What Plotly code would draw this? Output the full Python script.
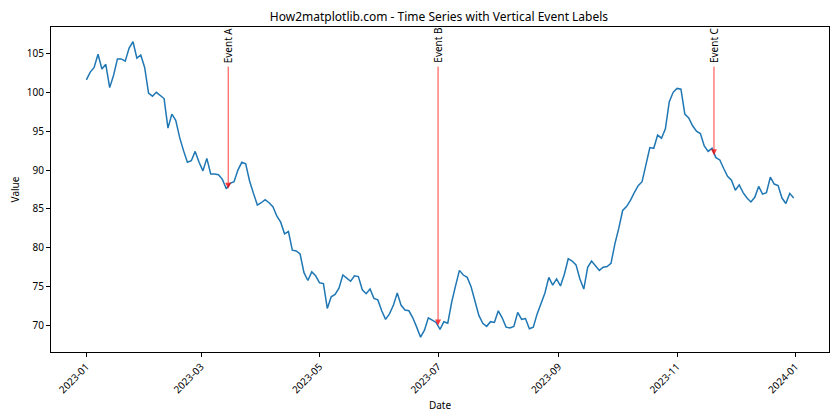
import plotly.graph_objects as go
import pandas as pd

# values, one every 2 days through 2023
dates = pd.date_range('2023-01-01', '2023-12-31', freq='2D')
values = [
    101.6, 102.6, 103.2, 104.9, 103.0, 103.6, 100.6, 102.2, 104.3, 104.3,
    104.0, 105.7, 106.5, 104.4, 104.8, 103.2, 99.9, 99.5, 100.0, 99.6,
    99.2, 95.4, 97.2, 96.4, 94.2, 92.5, 91.0, 91.2, 92.4, 91.0,
    89.9, 91.5, 89.5, 89.5, 89.4, 88.8, 87.6, 88.3, 88.5, 90.0,
    91.0, 90.8, 88.6, 87.0, 85.5, 85.8, 86.2, 85.8, 85.3, 84.1,
    83.3, 81.8, 82.1, 79.7, 79.6, 79.2, 76.8, 75.8, 76.9, 76.4,
    75.5, 75.4, 72.2, 73.7, 74.0, 74.8, 76.5, 76.1, 75.7, 76.4,
    76.3, 74.6, 74.1, 74.7, 73.5, 73.3, 71.9, 70.8, 71.5, 72.6,
    74.2, 72.6, 72.0, 71.9, 71.0, 69.8, 68.5, 69.4, 71.0, 70.7,
    70.4, 69.5, 70.5, 70.3, 73.0, 75.1, 77.1, 76.5, 76.2, 75.0,
    73.1, 71.3, 70.3, 69.9, 70.5, 70.4, 71.9, 71.0, 69.8, 69.7,
    69.9, 71.7, 70.8, 70.9, 69.6, 69.8, 71.5, 72.8, 74.2, 76.2,
    75.2, 76.0, 75.1, 76.6, 78.6, 78.3, 77.8, 76.0, 74.7, 77.5,
    78.3, 77.7, 77.1, 77.5, 77.6, 78.0, 80.5, 82.5, 84.8, 85.3,
    86.1, 87.1, 88.0, 88.5, 90.8, 92.9, 92.8, 94.5, 94.1, 95.3,
    98.8, 100.0, 100.5, 100.4, 97.2, 96.7, 95.7, 95.0, 94.7, 93.1,
    92.4, 92.8, 91.6, 91.3, 90.2, 89.2, 88.7, 87.4, 88.1, 87.1,
    86.4, 85.9, 86.5, 87.9, 86.9, 87.1, 89.1, 88.2, 88.0, 86.4,
    85.7, 87.0, 86.4,
]

event_dates = ['2023-03-15', '2023-07-01', '2023-11-20']
event_labels = ['Event A', 'Event B', 'Event C']
event_values = [87.6, 70.0, 91.9]
label_level = 103.5

FONT = 'Noto Sans'

fig = go.Figure()
fig.add_trace(go.Scatter(
    x=dates, y=values, mode='lines',
    line=dict(color='#1f77b4', width=1.5),
    showlegend=False,
))

for d, lab, v in zip(event_dates, event_labels, event_values):
    # red arrow from the label level down to the series
    fig.add_annotation(
        x=d, y=v, ax=d, ay=label_level, axref='x', ayref='y',
        text='', showarrow=True, arrowhead=2, arrowsize=1.2, arrowwidth=1,
        arrowcolor='rgba(255,0,0,0.75)',
    )
    fig.add_annotation(
        x=d, y=label_level, text=lab, showarrow=False, textangle=-90,
        xanchor='center', yanchor='bottom', yshift=0,
        font=dict(family=FONT, size=10, color='black'),
    )

# matplotlib-style 5% padding
t0, t1 = dates[0], dates[-1]
pad_t = (t1 - t0) * 0.05
vmin, vmax = min(values), max(values)
pad_v = (vmax - vmin) * 0.05

# page body has an 8px margin, so the figure is sized 8px smaller
fig.update_layout(
    width=832, height=412,
    margin=dict(l=43, r=11, t=19, b=68),
    plot_bgcolor='white', paper_bgcolor='white',
    font=dict(family=FONT, size=10, color='black'),
    title=dict(text='How2matplotlib.com - Time Series with Vertical Event Labels',
               x=0.518, xanchor='center', y=0.978, yanchor='middle',
               font=dict(family=FONT, size=12, color='black')),
)
fig.update_xaxes(
    range=[t0 - pad_t, t1 + pad_t], automargin=False,
    tick0='2023-01-01', dtick='M2', tickformat='%Y-%m', tickangle=-45,
    ticks='outside', ticklen=4, tickcolor='black',
    showline=True, linecolor='black', linewidth=1, mirror=True,
    showgrid=False, zeroline=False,
    title=dict(text='Date', font=dict(family=FONT, size=10), standoff=6),
)
fig.update_yaxes(
    range=[vmin - pad_v, vmax + pad_v], automargin=False,
    tick0=70, dtick=5,
    ticks='outside', ticklen=4, tickcolor='black',
    showline=True, linecolor='black', linewidth=1, mirror=True,
    showgrid=False, zeroline=False,
    title=dict(text='Value', font=dict(family=FONT, size=10), standoff=6),
)

fig.write_html('out.html')
